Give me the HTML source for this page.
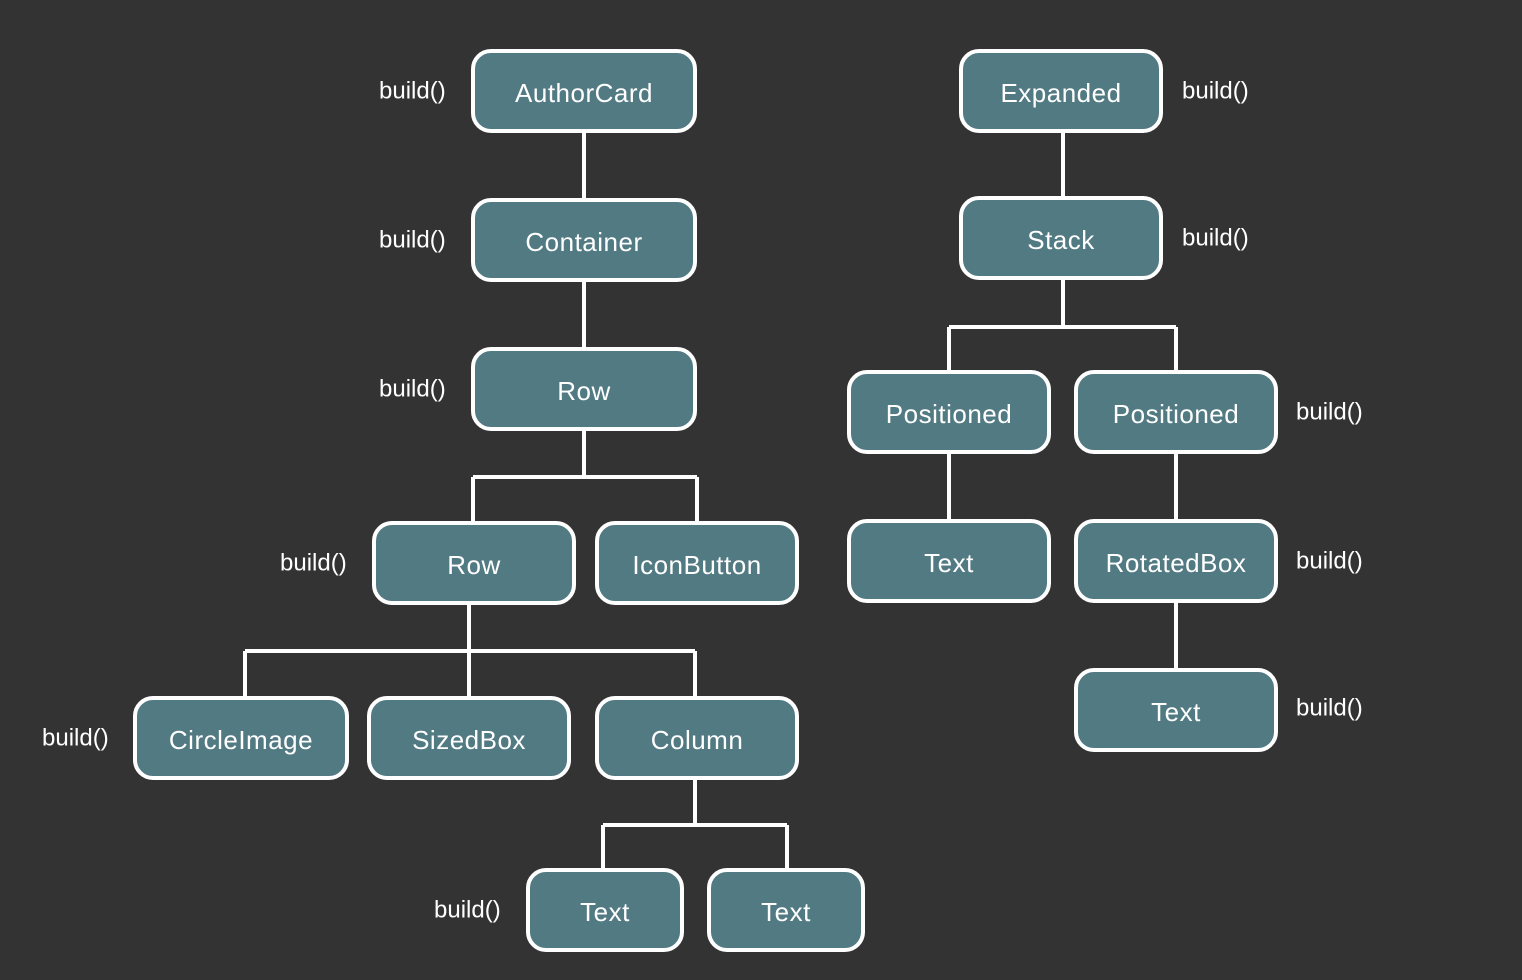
<!DOCTYPE html>
<html><head><meta charset="utf-8"><style>
html,body{margin:0;padding:0;background:#333333;}
svg{display:block}
.b{fill:#527a83;stroke:#fff;stroke-width:4}
.t{fill:#fff;font-family:"Liberation Sans",sans-serif;font-size:26px;text-anchor:middle;dominant-baseline:central;letter-spacing:0.5px}
.l{fill:#fff;font-family:"Liberation Sans",sans-serif;font-size:24px;dominant-baseline:central}
.c{fill:none;stroke:#fff;stroke-width:4;stroke-linejoin:round}
</style></head><body>
<svg width="1522" height="980" viewBox="0 0 1522 980" xmlns="http://www.w3.org/2000/svg">
<rect width="1522" height="980" fill="#333333"/>
<path class="c" d="M584 133V198 M584 282V347 M584 431V477 M473 477H697 M473 477V521 M697 477V521
M469 605V651 M245 651H695 M245 651V696 M469 651V696 M695 651V696
M695 780V825 M603 825H787 M603 825V868 M787 825V868
M1063 133V196 M1063 280V327 M949 327H1176 M949 327V370 M1176 327V370
M949 454V519 M1176 454V519 M1176 603V668"/>
<rect class="b" x="473" y="51" width="222" height="80" rx="18"/><text class="t" x="584" y="93">AuthorCard</text>
<rect class="b" x="473" y="200" width="222" height="80" rx="18"/><text class="t" x="584" y="242">Container</text>
<rect class="b" x="473" y="349" width="222" height="80" rx="18"/><text class="t" x="584" y="391">Row</text>
<rect class="b" x="374" y="523" width="200" height="80" rx="18"/><text class="t" x="474" y="565">Row</text>
<rect class="b" x="597" y="523" width="200" height="80" rx="18"/><text class="t" x="697" y="565">IconButton</text>
<rect class="b" x="135" y="698" width="212" height="80" rx="18"/><text class="t" x="241" y="740">CircleImage</text>
<rect class="b" x="369" y="698" width="200" height="80" rx="18"/><text class="t" x="469" y="740">SizedBox</text>
<rect class="b" x="597" y="698" width="200" height="80" rx="18"/><text class="t" x="697" y="740">Column</text>
<rect class="b" x="528" y="870" width="154" height="80" rx="18"/><text class="t" x="605" y="912">Text</text>
<rect class="b" x="709" y="870" width="154" height="80" rx="18"/><text class="t" x="786" y="912">Text</text>
<rect class="b" x="961" y="51" width="200" height="80" rx="18"/><text class="t" x="1061" y="93">Expanded</text>
<rect class="b" x="961" y="198" width="200" height="80" rx="18"/><text class="t" x="1061" y="240">Stack</text>
<rect class="b" x="849" y="372" width="200" height="80" rx="18"/><text class="t" x="949" y="414">Positioned</text>
<rect class="b" x="1076" y="372" width="200" height="80" rx="18"/><text class="t" x="1176" y="414">Positioned</text>
<rect class="b" x="849" y="521" width="200" height="80" rx="18"/><text class="t" x="949" y="563">Text</text>
<rect class="b" x="1076" y="521" width="200" height="80" rx="18"/><text class="t" x="1176" y="563">RotatedBox</text>
<rect class="b" x="1076" y="670" width="200" height="80" rx="18"/><text class="t" x="1176" y="712">Text</text>
<text class="l" x="379" y="91">build()</text>
<text class="l" x="379" y="240">build()</text>
<text class="l" x="379" y="389">build()</text>
<text class="l" x="280" y="563">build()</text>
<text class="l" x="42" y="738">build()</text>
<text class="l" x="434" y="910">build()</text>
<text class="l" x="1182" y="91">build()</text>
<text class="l" x="1182" y="238">build()</text>
<text class="l" x="1296" y="412">build()</text>
<text class="l" x="1296" y="561">build()</text>
<text class="l" x="1296" y="708">build()</text>
</svg>
</body></html>
